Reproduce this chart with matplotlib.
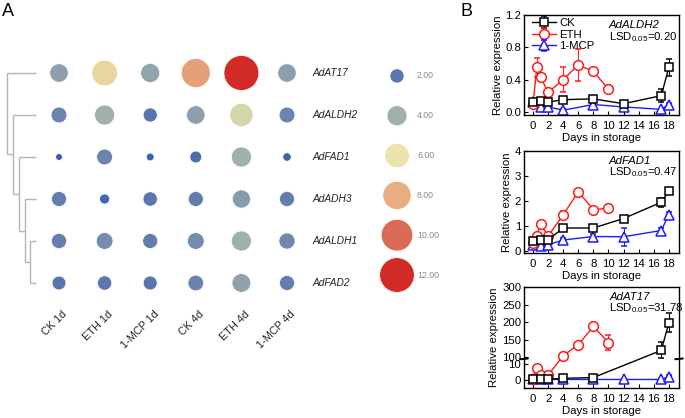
import numpy as np
import matplotlib
matplotlib.use('Agg')
import matplotlib.pyplot as plt
from matplotlib.colors import LinearSegmentedColormap, Normalize
from matplotlib.transforms import blended_transform_factory

plt.rcParams['font.family'] = ['Liberation Sans', 'DejaVu Sans']
plt.rcParams['mathtext.fontset'] = 'custom'
plt.rcParams['mathtext.rm'] = 'Liberation Sans'
plt.rcParams['mathtext.it'] = 'Liberation Sans:italic'

# ---------------- Panel A data ----------------
conditions = ['CK 1d', 'ETH 1d', '1-MCP 1d', 'CK 4d', 'ETH 4d', '1-MCP 4d']
genes = ['AdAT17', 'AdALDH2', 'AdFAD1', 'AdADH3', 'AdALDH1', 'AdFAD2']
val_AT17 = [3.4, 6.6, 3.6, 8.4, 12.2, 3.4]
val_ALDH2 = [2.5, 4.0, 2.0, 3.4, 5.4, 2.5]
val_FAD1 = [0.45, 2.5, 0.6, 1.4, 4.0, 0.7]
val_ADH3 = [2.25, 1.0, 2.05, 2.25, 3.3, 2.25]
val_ALDH1 = [2.3, 2.8, 2.25, 2.8, 4.0, 2.6]
val_FAD2 = [1.9, 2.05, 1.95, 2.45, 3.5, 2.25]
legend_values = [2.0, 4.0, 6.0, 8.0, 10.0, 12.0]
dendro_heights = [6, 11, 17, 23, 29]

# ---------------- Panel B data ----------------
days_ticks = list(range(0, 19, 2))

# AdALDH2
aldh2_ck_days = [0, 1, 2, 4, 8, 12, 17, 18]
aldh2_ck = [0.12, 0.13, 0.12, 0.15, 0.16, 0.10, 0.20, 0.55]
aldh2_ck_err = [0.02, 0.02, 0.02, 0.03, 0.03, 0.02, 0.08, 0.11]
aldh2_eth_days = [0, 0.5, 1, 2, 4, 6, 8, 10]
aldh2_eth = [0.10, 0.55, 0.43, 0.24, 0.40, 0.58, 0.50, 0.28]
aldh2_eth_err = [0.02, 0.12, 0.03, 0.03, 0.15, 0.20, 0.04, 0.02]
aldh2_mcp_days = [0, 1, 2, 4, 8, 12, 17, 18]
aldh2_mcp = [0.12, 0.06, 0.06, 0.02, 0.09, 0.06, 0.03, 0.09]
aldh2_mcp_err = [0.02, 0.02, 0.02, 0.01, 0.02, 0.02, 0.01, 0.02]

# AdFAD1
fad1_ck_days = [0, 1, 2, 4, 8, 12, 17, 18]
fad1_ck = [0.40, 0.45, 0.45, 0.92, 0.92, 1.30, 1.95, 2.40]
fad1_ck_err = [0.05, 0.05, 0.05, 0.10, 0.08, 0.12, 0.18, 0.10]
fad1_eth_days = [0, 0.5, 1, 2, 4, 6, 8, 10]
fad1_eth = [0.33, 0.62, 1.08, 0.60, 1.45, 2.37, 1.65, 1.72]
fad1_eth_err = [0.05, 0.08, 0.12, 0.08, 0.14, 0.13, 0.08, 0.12]
fad1_mcp_days = [0, 1, 2, 4, 8, 12, 17, 18]
fad1_mcp = [0.25, 0.20, 0.25, 0.44, 0.58, 0.57, 0.82, 1.45]
fad1_mcp_err = [0.05, 0.05, 0.06, 0.08, 0.10, 0.35, 0.12, 0.12]

# AdAT17
at17_ck_days = [0, 1, 2, 4, 8, 17, 18]
at17_ck = [0.5, 0.5, 0.5, 1.0, 1.5, 120, 198]
at17_ck_err = [0.2, 0.2, 0.2, 0.3, 0.3, 25, 27]
at17_eth_days = [0, 0.5, 1, 2, 4, 6, 8, 10]
at17_eth = [0.5, 7.3, 3.0, 3.0, 105, 136, 188, 142]
at17_eth_err = [0.2, 1.5, 0.5, 0.5, 8, 5, 6, 22]
at17_mcp_days = [0, 1, 2, 4, 8, 12, 17, 18]
at17_mcp = [0.3, 0.3, 0.3, 0.3, 0.3, 0.3, 0.3, 2.0]
at17_mcp_err = [0.1, 0.1, 0.1, 0.1, 0.1, 0.1, 0.1, 1.0]

# ---------------- figure ----------------
W, H = 685, 418
fig = plt.figure(figsize=(W / 100, H / 100), dpi=100)

cmap = LinearSegmentedColormap.from_list('bubble', [
    (0 / 12, '#2f58ae'), (2 / 12, '#5a77ae'), (4 / 12, '#a0b0ac'),
    (6 / 12, '#ebe4ac'), (8 / 12, '#e8ae82'), (10 / 12, '#db6c56'),
    (12 / 12, '#d12a27')])
norm = Normalize(0, 12)

colsp, rowsp = 45.6, 42.0
x0px, y0px = 59, 73
axA = fig.add_axes([0, 0, 470 / W, 1])
axA.axis('off')
axA.set_xlim(-x0px / colsp, (470 - x0px) / colsp)
axA.set_ylim((H - y0px) / rowsp, -y0px / rowsp)

mat = np.array([val_AT17, val_ALDH2, val_FAD1, val_ADH3, val_ALDH1, val_FAD2])
cc, rr = np.meshgrid(np.arange(len(conditions)), np.arange(len(genes)))
axA.scatter(cc.ravel(), rr.ravel(), s=51.84 * mat.ravel(), c=mat.ravel(),
            cmap=cmap, norm=norm, edgecolors='white', linewidths=0.5, zorder=3)

for i, g in enumerate(genes):
    axA.text((313 - x0px) / colsp, i, g, style='italic', fontsize=7.3,
             color='#222222', va='center', ha='left')
for j, c in enumerate(conditions):
    axA.text(j + 0.07, 5.62, c, rotation=45, rotation_mode='anchor',
             ha='right', va='top', fontsize=7.8, color='#222222')

# size legend
leg_y = np.linspace(0.07, 4.81, len(legend_values))
leg_x = (397 - x0px) / colsp
lv = np.array(legend_values)
axA.scatter(np.full(len(lv), leg_x), leg_y, s=51.84 * lv, c=lv, cmap=cmap,
            norm=norm, edgecolors='white', linewidths=0.5, zorder=3)
for v, yy in zip(legend_values, leg_y):
    axA.text((417 - x0px) / colsp, yy, f'{v:.2f}', fontsize=6.3,
             color='#8a8a8a', va='center', ha='left')

# dendrogram
leaf_x = (36 - x0px) / colsp
def hx(h):
    return leaf_x - h / colsp
dkw = dict(color='#b4b4b4', lw=1.0, solid_capstyle='butt')
n = len(genes)
cur_x = hx(dendro_heights[0])
cur_y = (n - 2 + n - 1) / 2
for leaf in (n - 2, n - 1):
    axA.plot([leaf_x, cur_x], [leaf, leaf], **dkw)
axA.plot([cur_x, cur_x], [n - 2, n - 1], **dkw)
for leaf, h in zip(range(n - 3, -1, -1), dendro_heights[1:]):
    nx = hx(h)
    axA.plot([leaf_x, nx], [leaf, leaf], **dkw)
    axA.plot([cur_x, nx], [cur_y, cur_y], **dkw)
    axA.plot([nx, nx], [leaf, cur_y], **dkw)
    cur_x, cur_y = nx, (leaf + cur_y) / 2

fig.text(2 / W, 1 - 3 / H, 'A', fontsize=13, va='top', ha='left')
fig.text(461 / W, 1 - 3 / H, 'B', fontsize=13, va='top', ha='left')

# ---------------- Panel B ----------------
def px_axes(l, r, t, b):
    return fig.add_axes([l / W, 1 - b / H, (r - l) / W, (b - t) / H])

fs = 8.2
mk = dict(mfc='white', mew=1.1, capsize=2, elinewidth=0.8, capthick=0.8, lw=1.0)

def draw_series(ax, ck, eth, mcp):
    hs = []
    hs.append(ax.errorbar(*mcp, color='#1a1aff', marker='^', ms=7.2, label='1-MCP', **mk))
    hs.append(ax.errorbar(*eth, color='#ff1a1a', marker='o', ms=7, label='ETH', **mk))
    hs.append(ax.errorbar(*ck, color='black', marker='s', ms=6.3, label='CK', **mk))
    return hs

def style(ax):
    ax.set_xlim(-1.2, 19.35)
    ax.set_xticks(days_ticks)
    ax.tick_params(direction='in', length=3, width=0.8, labelsize=fs, pad=2)
    ax.tick_params(axis='x', pad=4)
    for s in ax.spines.values():
        s.set_linewidth(1.0)
    ax.set_xlabel('Days in storage', fontsize=fs, labelpad=1.5)
    ax.set_ylabel('Relative expression', fontsize=fs, labelpad=2)

ax1 = px_axes(524, 679, 15, 115)
hs = draw_series(ax1, (aldh2_ck_days, aldh2_ck, aldh2_ck_err),
                 (aldh2_eth_days, aldh2_eth, aldh2_eth_err),
                 (aldh2_mcp_days, aldh2_mcp, aldh2_mcp_err))
style(ax1)
ax1.set_ylim(-0.04, 1.2)
ax1.set_yticks([0.0, 0.4, 0.8, 1.2])
ax1.yaxis.set_major_formatter(matplotlib.ticker.FormatStrFormatter('%.1f'))
ax1.legend([hs[2], hs[1], hs[0]], ['CK', 'ETH', '1-MCP'], loc='upper left',
           bbox_to_anchor=(0.035, 1.0),
           frameon=False, fontsize=fs, borderaxespad=0.15, handlelength=2.1,
           handletextpad=0.25, labelspacing=0.15, borderpad=0.1)
ax1.text(0.71, 0.90, 'AdALDH2', style='italic', fontsize=fs, transform=ax1.transAxes,
         ha='center', va='center')
ax1.text(0.55, 0.78, r'LSD$_{0.05}$=0.20', fontsize=fs, transform=ax1.transAxes,
         ha='left', va='center')

ax2 = px_axes(524, 679, 151, 253)
draw_series(ax2, (fad1_ck_days, fad1_ck, fad1_ck_err),
            (fad1_eth_days, fad1_eth, fad1_eth_err),
            (fad1_mcp_days, fad1_mcp, fad1_mcp_err))
style(ax2)
ax2.set_ylim(-0.08, 4)
ax2.set_yticks([0, 1, 2, 3, 4])
ax2.text(0.68, 0.90, 'AdFAD1', style='italic', fontsize=fs, transform=ax2.transAxes,
         ha='center', va='center')
ax2.text(0.55, 0.79, r'LSD$_{0.05}$=0.47', fontsize=fs, transform=ax2.transAxes,
         ha='left', va='center')

def fwd(y):
    y = np.asarray(y, float)
    return np.where(y <= 12, y, np.where(y >= 100, 14 + (y - 100) * 0.21875,
                                         12 + (y - 12) * (2 / 88)))
def inv(u):
    u = np.asarray(u, float)
    return np.where(u <= 12, u, np.where(u >= 14, 100 + (u - 14) / 0.21875,
                                         12 + (u - 12) * 44))

ax3 = px_axes(524, 679, 287, 388)
ax3.set_yscale('function', functions=(fwd, inv))
draw_series(ax3, (at17_ck_days, at17_ck, at17_ck_err),
            (at17_eth_days, at17_eth, at17_eth_err),
            (at17_mcp_days, at17_mcp, at17_mcp_err))
style(ax3)
ax3.set_ylim(-5, 300)
ax3.set_yticks([0, 10, 100, 150, 200, 250, 300])
ax3.set_yticklabels(['0', '10', '100', '150', '200', '250', '300'])
ax3.yaxis.set_minor_locator(matplotlib.ticker.NullLocator())
ax3.text(0.68, 0.90, 'AdAT17', style='italic', fontsize=fs, transform=ax3.transAxes,
         ha='center', va='center')
ax3.text(0.55, 0.79, r'LSD$_{0.05}$=31.78', fontsize=fs, transform=ax3.transAxes,
         ha='left', va='center')
bt = blended_transform_factory(ax3.transAxes, ax3.transData)
for xa in (0, 1):
    for yy in (40, 60):
        ax3.plot([xa - 0.025, xa + 0.025], [yy, yy + 20], color='black', lw=0.9,
                 transform=bt, clip_on=False, zorder=5)

fig.savefig('out.png', dpi=100)
